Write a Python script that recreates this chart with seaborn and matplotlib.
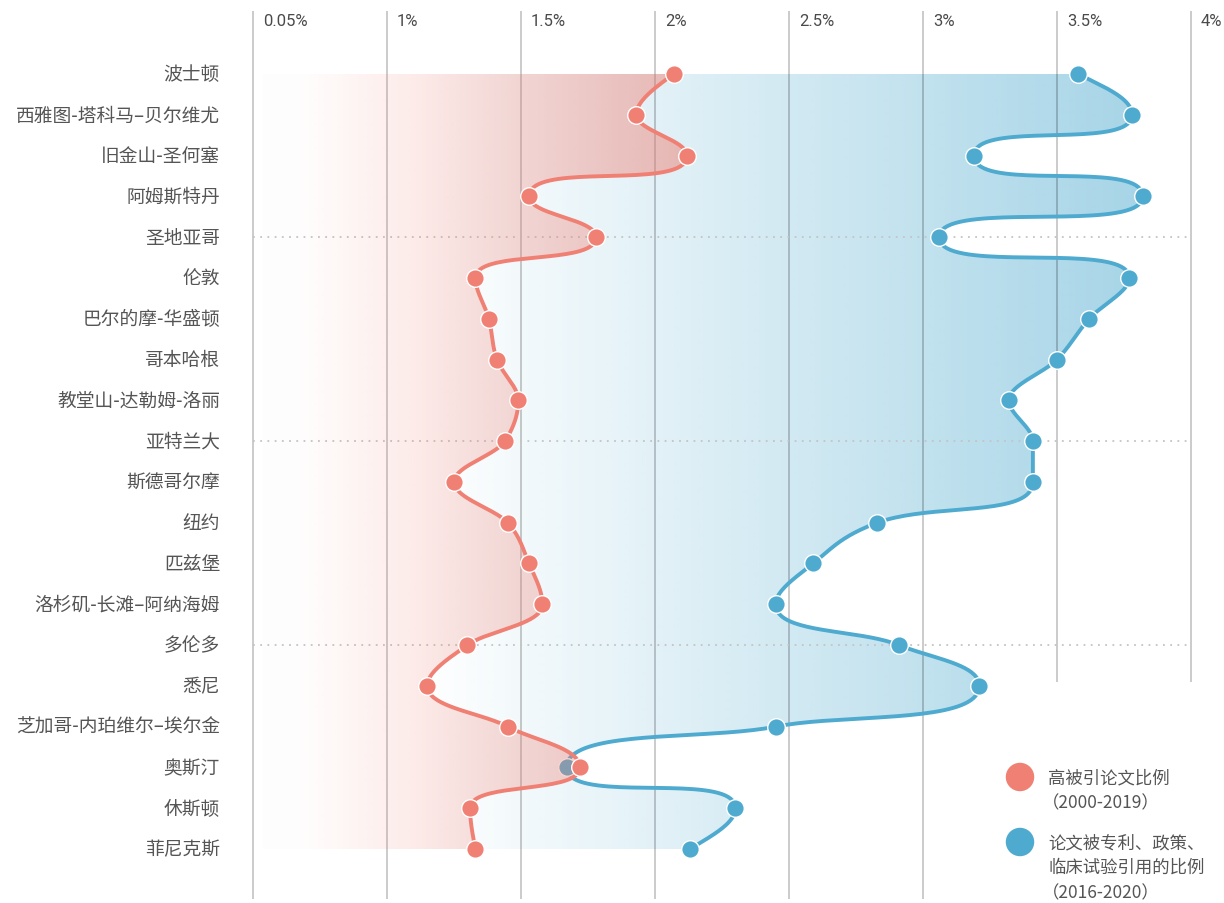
import matplotlib
matplotlib.use('Agg')
import matplotlib.pyplot as plt
from matplotlib.patches import Polygon
import numpy as np
import pandas as pd
import seaborn as sns

cities = ['波士顿', '西雅图-塔科马–贝尔维尤', '旧金山-圣何塞', '阿姆斯特丹', '圣地亚哥',
          '伦敦', '巴尔的摩-华盛顿', '哥本哈根', '教堂山-达勒姆-洛丽', '亚特兰大',
          '斯德哥尔摩', '纽约', '匹兹堡', '洛杉矶-长滩–阿纳海姆', '多伦多',
          '悉尼', '芝加哥-内珀维尔–埃尔金', '奥斯汀', '休斯顿', '菲尼克斯']
cited_share = [2.07, 1.93, 2.12, 1.53, 1.78, 1.33, 1.38, 1.41, 1.49, 1.44,
               1.25, 1.45, 1.53, 1.58, 1.30, 1.15, 1.45, 1.72, 1.31, 1.33]
policy_share = [3.58, 3.78, 3.19, 3.82, 3.06, 3.77, 3.62, 3.50, 3.32, 3.41,
                3.41, 2.83, 2.59, 2.45, 2.91, 3.21, 2.45, 1.67, 2.30, 2.13]
tick_values = [0.5, 1, 1.5, 2, 2.5, 3, 3.5, 4]
tick_labels = ['0.05%', '1%', '1.5%', '2%', '2.5%', '3%', '3.5%', '4%']
legend_labels = [['高被引论文比例', '（2000-2019）'],
                 ['论文被专利、政策、', '临床试验引用的比例', '（2016-2020）']]

RED = '#ef8073'
BLUE = '#4eaacf'
CJK = ['Noto Sans CJK SC', 'DejaVu Sans']

sns.set_style('white')
plt.rcParams['font.family'] = CJK

# pixel scale of the reference: 268 px per 1 %, 40.79 px per row
PX_X, PX_Y = 268.0, 40.79


def handle(t, d):
    # vertical handles grow with the jump at turning points,
    # normal Hermite handles where the trend goes on
    if d == 0:
        return 1 / 3
    jump = abs(d) * PX_X
    k_turn = np.clip(1 / 3 + (jump - 40) * 0.62 / 130, 1 / 3, 0.95)
    ratio = min(abs(t) / abs(d), 1.0)
    return 1 / 3 + (k_turn - 1 / 3) * (1 - ratio)


def smooth_path(xv, n=40):
    x = np.asarray(xv, float)
    d = np.diff(x)
    t = np.zeros_like(x)
    for i in range(1, len(x) - 1):
        s0, s1 = d[i - 1], d[i]
        p = (s0 + s1) / 2
        t[i] = (np.sign(s0) + np.sign(s1)) * min(abs(s0), abs(s1), 0.5 * abs(p))
    t[0] = (3 * d[0] - t[1]) / 2
    t[-1] = (3 * d[-1] - t[-2]) / 2
    s = np.linspace(0, 1, n, endpoint=False)
    b0, b1, b2, b3 = (1 - s)**3, 3 * s * (1 - s)**2, 3 * s**2 * (1 - s), s**3
    xs, ys = [], []
    for i in range(len(x) - 1):
        a0 = handle(t[i], d[i])
        a1 = handle(t[i + 1], d[i])
        cx = [x[i], x[i] + t[i] * a0, x[i + 1] - t[i + 1] * a1, x[i + 1]]
        cy = [i, i + a0, i + 1 - a1, i + 1]
        xs.append(b0 * cx[0] + b1 * cx[1] + b2 * cx[2] + b3 * cx[3])
        ys.append(b0 * cy[0] + b1 * cy[1] + b2 * cy[2] + b3 * cy[3])
    xs.append([x[-1]])
    ys.append([len(x) - 1])
    return np.concatenate(xs), np.concatenate(ys)


rows = np.arange(len(cities))
df = pd.DataFrame({'city': cities, 'row': rows,
                   'cited': cited_share, 'policy': policy_share})

fig = plt.figure(figsize=(12.24, 9.04), dpi=100)
ax = fig.add_axes([0, 0, 1, 1])
ax.axis('off')

def v(px):
    return 0.5 + (px - 253) / PX_X

def r(py):
    return (py - 75) / PX_Y

xl = v(263)
rx, ry = smooth_path(df['cited'])
bx, by = smooth_path(df['policy'])

# gradient fills
gx = np.linspace(xl, 4.1, 500)
gpx = 253 + (gx - 0.5) * PX_X

blue_poly = Polygon(np.vstack([[xl, 0], np.column_stack([bx, by]), [xl, rows[-1]]]),
                    closed=True, facecolor='none', edgecolor='none')
ax.add_patch(blue_poly)
grad_b = np.zeros((1, len(gx), 4))
grad_b[0, :, :3] = matplotlib.colors.to_rgb(BLUE)
grad_b[0, :, 3] = np.clip(0.5 * (gpx - 420) / (1140 - 420), 0, 0.55)
im_b = ax.imshow(grad_b, extent=[xl, 4.1, rows[-1], 0], aspect='auto',
                 interpolation='bilinear', zorder=1)
im_b.set_clip_path(blue_poly)

red_poly = Polygon(np.vstack([[xl, 0], np.column_stack([rx, ry]), [xl, rows[-1]]]),
                   closed=True, facecolor='none', edgecolor='none')
ax.add_patch(red_poly)
grad_r = np.zeros((1, len(gx), 4))
grad_r[0, :, :3] = matplotlib.colors.to_rgb(RED)
grad_r[0, :, 3] = np.clip(0.47 * (gpx - 290) / (656 - 290), 0.015, 0.55)
im_r = ax.imshow(grad_r, extent=[xl, 4.1, rows[-1], 0], aspect='auto',
                 interpolation='bilinear', zorder=5)
im_r.set_clip_path(red_poly)

# grid
for tv, tl in zip(tick_values, tick_labels):
    bottom = r(683) if tv >= 3.5 else r(900)
    ax.vlines(tv, r(12), bottom, color='black', alpha=0.22, lw=1.3, zorder=2)
    ax.text(tv + 10 / PX_X, r(22), tl, ha='left', va='center', fontsize=12,
            color='#4a4a4a', family=['Roboto', 'DejaVu Sans'])
for hr in [4, 9, 14]:
    ax.hlines(hr, 0.5, 4.0, color='#c4c4c4', lw=1.3, linestyle=(0, (1, 3)), zorder=2)

# curves and points
ax.plot(bx, by, color=BLUE, lw=2.8, zorder=3, solid_capstyle='round')
sns.scatterplot(data=df, x='policy', y='row', color=BLUE, s=160,
                edgecolor='white', linewidth=1, zorder=4, ax=ax)
ax.plot(rx, ry, color=RED, lw=2.8, zorder=6, solid_capstyle='round')
sns.scatterplot(data=df, x='cited', y='row', color=RED, s=160,
                edgecolor='white', linewidth=1, zorder=7, ax=ax)

# city labels
for i, c in enumerate(cities):
    ax.text(v(220), i, c, ha='right', va='center', fontsize=13.5, color='#555555')

# legend
for col, lines, cy in zip([RED, BLUE], legend_labels, [778, 843]):
    ax.scatter([v(1020)], [r(cy)], s=420, color=col, edgecolor='none', zorder=7)
    for k, t in enumerate(lines):
        dx = -6 if t.startswith('（') else 0
        ax.text(v(1048 + dx), r(cy + 25 * k), t, ha='left', va='center',
                fontsize=12.5, color='#555555')

ax.set_xlim(v(0), v(1224))
ax.set_ylim(r(904), r(0))
ax.set_xlabel('')
ax.set_ylabel('')

plt.savefig('out.png', dpi=100)
